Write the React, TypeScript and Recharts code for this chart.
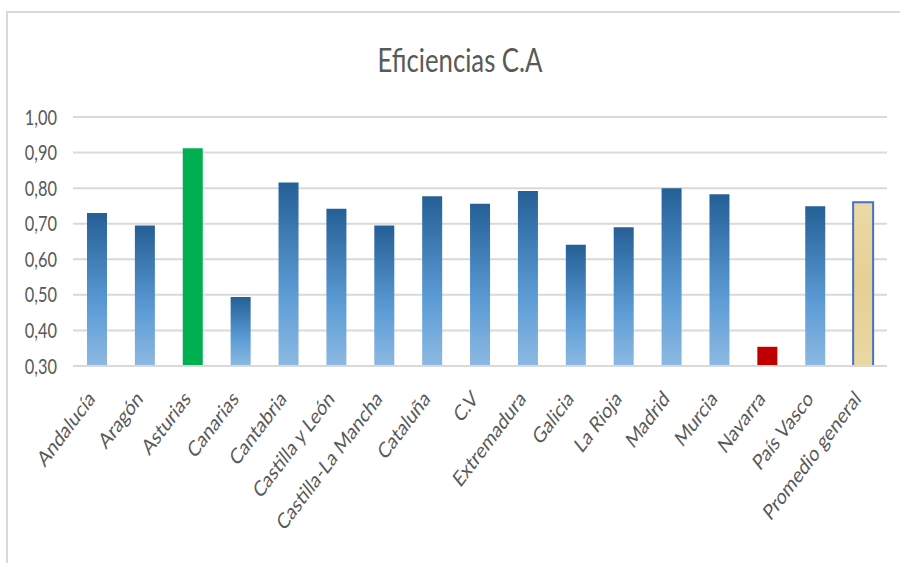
import React from 'react';
import { BarChart, Bar, XAxis, YAxis, CartesianGrid, Cell } from 'recharts';

const regions = [
  'Andalucía', 'Aragón', 'Asturias', 'Canarias', 'Cantabria', 'Castilla y León',
  'Castilla-La Mancha', 'Cataluña', 'C.V', 'Extremadura', 'Galicia', 'La Rioja',
  'Madrid', 'Murcia', 'Navarra', 'País Vasco', 'Promedio general'
];
const efficiency = [
  0.73, 0.695, 0.912, 0.494, 0.816, 0.742, 0.695, 0.777, 0.756, 0.792,
  0.641, 0.69, 0.8, 0.783, 0.354, 0.749, 0.76
];
const yTicks = [0.3, 0.4, 0.5, 0.6, 0.7, 0.8, 0.9, 1.0];

const FONT = 'Lato, "Open Sans", sans-serif';
const GREY_TEXT = '#595959';
// the original picture is squeezed horizontally, so text is narrowed too
const SQUEEZE = 0.78;

const data = regions.map((name, i) => ({ name, value: efficiency[i] }));

const fillFor = (name: string) => {
  if (name === 'Asturias') return '#00b050';
  if (name === 'Navarra') return '#c00000';
  if (name === 'Promedio general') return 'url(#tanFill)';
  return 'url(#blueFade)';
};

const CategoryTick = (props: any) => {
  const { x, y, payload } = props;
  return (
    <g transform={`translate(${x - 1},${y + 26}) scale(${SQUEEZE},1) rotate(-46)`}>
      <text x={0} y={0} textAnchor="end" fontSize={22} fill={GREY_TEXT} fontFamily={FONT}>
        {payload.value}
      </text>
    </g>
  );
};

const ValueTick = (props: any) => {
  const { x, y, payload } = props;
  return (
    <g transform={`translate(${x - 8},${y}) scale(${SQUEEZE},1)`}>
      <text x={0} y={0} dy="0.36em" textAnchor="end" fontSize={21} fill={GREY_TEXT} fontFamily={FONT}>
        {payload.value.toFixed(2).replace('.', ',')}
      </text>
    </g>
  );
};

export default function App() {
  return (
    <div style={{ position: 'fixed', left: 0, top: 0, width: 900, height: 563, overflow: 'hidden', background: '#fff' }}>
      {/* frame of the embedded chart */}
      <div
        style={{
          position: 'absolute',
          left: 6,
          top: 11,
          width: 1000,
          height: 600,
          border: '2px solid #d9d9d9',
          boxSizing: 'border-box'
        }}
      />
      <svg width={900} height={100} style={{ position: 'absolute', left: 0, top: 0 }}>
        <g transform={`translate(460,72) scale(${SQUEEZE},1)`}>
          <text x={0} y={0} textAnchor="middle" fontSize={33} fill={GREY_TEXT} fontFamily={FONT}>
            Eficiencias C.A
          </text>
        </g>
      </svg>
      <div style={{ position: 'absolute', left: 0, top: 0 }}>
        <BarChart
          width={900}
          height={563}
          data={data}
          margin={{ top: 117, right: 13, left: 13, bottom: 77 }}
        >
          <defs>
            <linearGradient id="blueFade" x1="0" y1="0" x2="0" y2="1">
              <stop offset="0%" stopColor="#255f96" />
              <stop offset="60%" stopColor="#5b9bd5" />
              <stop offset="100%" stopColor="#8db9e2" />
            </linearGradient>
            <linearGradient id="tanFill" x1="0" y1="0" x2="0" y2="1">
              <stop offset="0%" stopColor="#ecd9a6" />
              <stop offset="50%" stopColor="#e6cf95" />
              <stop offset="100%" stopColor="#ead7a2" />
            </linearGradient>
          </defs>
          <CartesianGrid vertical={false} stroke="#d9d9d9" strokeWidth={2} />
          <XAxis
            dataKey="name"
            interval={0}
            height={120}
            tick={<CategoryTick />}
            tickLine={false}
            axisLine={{ stroke: '#d9d9d9', strokeWidth: 2 }}
          />
          <YAxis
            domain={[0.3, 1.0]}
            ticks={yTicks}
            width={60}
            axisLine={false}
            tickLine={false}
            tick={<ValueTick />}
          />
          <Bar dataKey="value" barSize={20} isAnimationActive={false}>
            {data.map((d) => (
              <Cell
                key={d.name}
                fill={fillFor(d.name)}
                stroke={d.name === 'Promedio general' ? '#4472c4' : 'none'}
                strokeWidth={d.name === 'Promedio general' ? 2 : 0}
              />
            ))}
          </Bar>
        </BarChart>
      </div>
    </div>
  );
}
